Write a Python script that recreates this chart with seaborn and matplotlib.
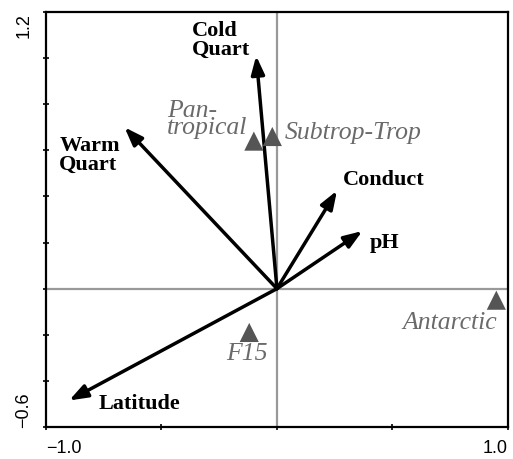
import matplotlib
matplotlib.use('Agg')
import matplotlib.pyplot as plt
import seaborn as sns
import pandas as pd

# environmental vectors
env_names = ['Cold\nQuart', 'Warm\nQuart', 'Conduct', 'pH', 'Latitude']
env_x = [-0.09, -0.66, 0.26, 0.37, -0.90]
env_y = [1.01, 0.70, 0.425, 0.25, -0.485]

# species groups
grp_names = ['Pan-\ntropical', 'Subtrop-Trop', 'F15', 'Antarctic']
grp_x = [-0.10, -0.02, -0.12, 0.95]
grp_y = [0.64, 0.66, -0.19, -0.05]

sns.set_style('white')
fig = plt.figure(figsize=(5.13, 4.6), dpi=100)
ax = fig.add_axes([0.0897, 0.0696, 0.9003, 0.9021])

ax.axhline(0, color='#999999', lw=1.6, zorder=1)
ax.axvline(0, color='#999999', lw=1.6, zorder=1)

for i in range(len(env_names)):
    ax.annotate('', xy=(env_x[i], env_y[i]), xytext=(0, 0),
                arrowprops=dict(arrowstyle='-|>,head_length=1.1,head_width=0.4',
                                color='black', lw=2.5, shrinkA=0, shrinkB=0),
                zorder=3)

df = pd.DataFrame({'x': grp_x, 'y': grp_y, 'name': grp_names})
sns.scatterplot(data=df, x='x', y='y', marker='^', s=190, color='#555555',
                edgecolor='none', ax=ax, zorder=4)

bold = dict(family='Liberation Serif', fontweight='bold', fontsize=16, color='black')
ital = dict(family='Liberation Serif', style='italic', fontsize=18.5, color='#6a6a6a')

# label offsets (points) from arrow tips
env_off = [(-4.5, 12), (-47, -19.5), (4.5, 8.5), (5, -8), (21.5, -2)]
env_ha = ['right', 'left', 'left', 'left', 'left']
for i in range(len(env_names)):
    ax.annotate(env_names[i], (env_x[i], env_y[i]), xytext=env_off[i],
                textcoords='offset points', ha=env_ha[i], va='center',
                multialignment='left', linespacing=0.92, **bold)

grp_off = [(-4.5, 16), (9, 3.5), (-2, -15), (0.7, -16)]
grp_ha = ['right', 'left', 'center', 'right']
for i in range(len(grp_names)):
    ax.annotate(grp_names[i], (grp_x[i], grp_y[i]), xytext=grp_off[i],
                textcoords='offset points', ha=grp_ha[i], va='center',
                multialignment='left', linespacing=0.7, **ital)

ax.set_xlim(-1.0, 1.0)
ax.set_ylim(-0.6, 1.2)
ax.set_xticks([-1.0, -0.5, 0, 0.5, 1.0])
ax.set_xticklabels(['\u22121.0', '', '', '', '1.0'])
ax.set_yticks([-0.6, -0.4, -0.2, 0, 0.2, 0.4, 0.6, 0.8, 1.0, 1.2])
ax.set_yticklabels(['\u22120.6'] + [''] * 8 + ['1.2'], rotation=90)
ax.tick_params(direction='inout', length=4, width=1.2, labelsize=13, colors='black',
               left=True, bottom=True)
ax.tick_params(axis='x', pad=7)
ax.tick_params(axis='y', pad=8)
xl = ax.get_xticklabels()
xl[0].set_ha('left')
xl[-1].set_ha('right')
yl = ax.get_yticklabels()
yl[0].set_va('bottom')
yl[-1].set_va('top')
for lab in xl + yl:
    lab.set_family('Liberation Sans')
ax.set_xlabel('')
ax.set_ylabel('')
for s in ax.spines.values():
    s.set_color('black')
    s.set_linewidth(1.6)

fig.savefig('out.png', dpi=100)
